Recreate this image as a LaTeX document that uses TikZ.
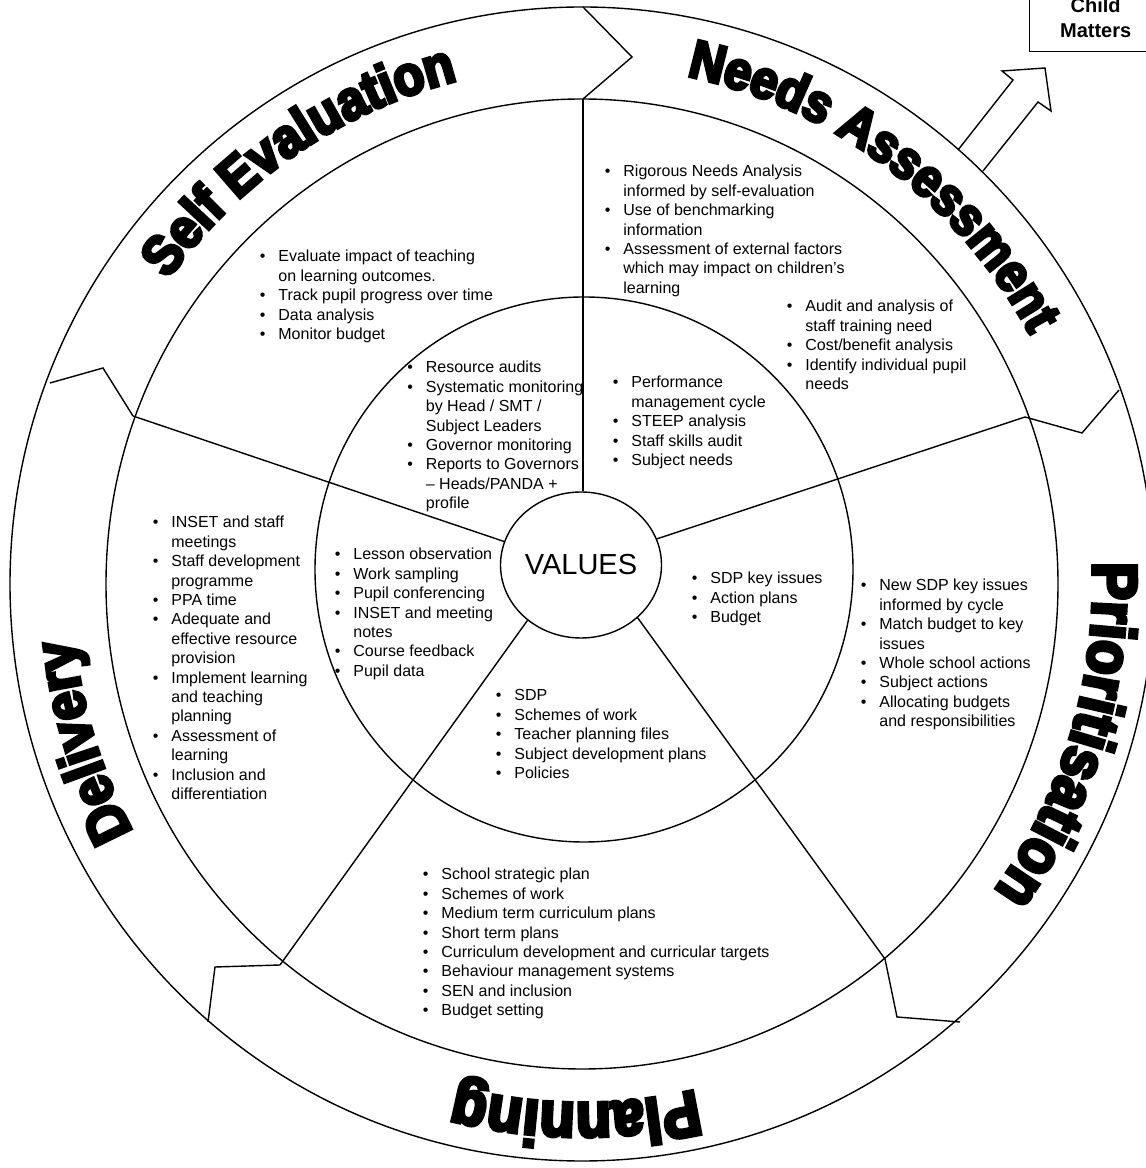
\documentclass[tikz,border=0pt]{standalone}
\usepackage{fontspec}
\setmainfont{Liberation Sans}
\newfontfamily\heavyfont{Liberation Sans}[BoldFeatures={FakeBold=6,FakeStretch=0.9}]
\usetikzlibrary{shapes.geometric,decorations.text}
\newcommand{\listfont}{\fontsize{8}{9.7}\selectfont}
\newcommand{\blist}[1]{\begin{tabular}[t]{@{}p{9.25pt}@{}l@{}}#1\end{tabular}}
\tikzset{
  bullets/.style={anchor=base west, inner sep=0pt, font=\listfont},
  ringlabel/.style 2 args={decorate, decoration={text along path, text align=center,
      text={|\heavyfont\bfseries\fontsize{#1}{#1}\selectfont|#2}}}
}
\begin{document}
\begin{tikzpicture}[x=0.5pt, y=0.5pt, line width=0.7pt]
    \useasboundingbox (0,0) rectangle (1146,1168);
    \clip (0,0) rectangle (1146,1168);
    \fill[white] (0,0) rectangle (1146,1168);
    \coordinate (ring) at (582,584);
    \draw (ring) ellipse [x radius=572, y radius=577];
    \draw (ring) ellipse [x radius=476, y radius=485];
    \draw (584,598.5) ellipse [x radius=269, y radius=272.5];
    \node[ellipse, draw, minimum width=80.5pt, minimum height=73pt, inner sep=0pt,
      font=\fontsize{14.5}{16}\selectfont] (values) at (581,603) {VALUES};

    \coordinate (out-t) at (583,1161);  \coordinate (tip-t) at (632,1111);  \coordinate (in-t) at (583,1069);
    \coordinate (out-l) at (50,785);    \coordinate (tip-l) at (103,800);   \coordinate (in-l) at (133,752);
    \coordinate (out-r) at (1119,778);  \coordinate (tip-r) at (1082,735);  \coordinate (in-r) at (1025,751);
    \coordinate (out-br) at (960,146);  \coordinate (tip-br) at (897,151);  \coordinate (in-br) at (885,209);
    \coordinate (out-bl) at (208,146);  \coordinate (tip-bl) at (215,201);  \coordinate (in-bl) at (280,203);
    \foreach \s in {t,l,r,br,bl} {
      \draw (out-\s) -- (tip-\s) -- (in-\s);
    }
    \draw (in-t) -- (in-t |- values.north);
    \foreach \s/\a in {l/163,r/19.6,br/-43.5,bl/-134} {
      \draw (values.\a) -- (in-\s);
    }

    \draw (958,1018) -- (1013,1088) -- (1002,1097) -- (1045,1100) -- (1051,1057) -- (1038,1066) -- (983,997);
    \node[draw, anchor=south west, minimum width=66pt, minimum height=33pt, align=center,
      font=\bfseries\fontsize{10}{12.5}\selectfont] (cm) at (1029,1116) {Child\\Matters};

    \path[ringlabel={27.8pt}{Self Evaluation}] ([shift={(159:511 and 519)}]ring)
      arc[start angle=159, end angle=89, x radius=511, y radius=519];
    \path[ringlabel={26.9pt}{Needs Assessment}] ([shift={(88.5:511 and 519)}]ring)
      arc[start angle=88.5, end angle=18.5, x radius=511, y radius=519];
    \path[ringlabel={31.5pt}{Prioritisation}] ([shift={(18:511 and 519)}]ring)
      arc[start angle=18, end angle=-52, x radius=511, y radius=519];
    \path[ringlabel={31.9pt}{Planning}] ([shift={(-55.7:511 and 519)}]ring)
      arc[start angle=-55.7, end angle=-125.7, x radius=511, y radius=519];
    \path[ringlabel={28.9pt}{Delivery}] ([shift={(232.4:511 and 519)}]ring)
      arc[start angle=232.4, end angle=162.4, x radius=511, y radius=519];

    \node[bullets] (se-out) at (259.2,906) {\blist{
      \textbullet & Evaluate impact of teaching\\
      & on learning outcomes.\\
      \textbullet & Track pupil progress over time\\
      \textbullet & Data analysis\\
      \textbullet & Monitor budget}};
    \node[bullets] (se-in) at (406.7,795) {\blist{
      \textbullet & Resource audits\\
      \textbullet & Systematic monitoring\\
      & by Head / SMT /\\
      & Subject Leaders\\
      \textbullet & Governor monitoring\\
      \textbullet & Reports to Governors\\
      & – Heads/PANDA +\\
      & profile}};
    \node[bullets] (na-out) at (604.2,991) {\blist{
      \textbullet & Rigorous Needs Analysis\\
      & informed by self-evaluation\\
      \textbullet & Use of benchmarking\\
      & information\\
      \textbullet & Assessment of external factors\\
      & which may impact on children’s\\
      & learning}};
    \node[bullets] (na-mid) at (786.2,856) {\blist{
      \textbullet & Audit and analysis of\\
      & staff training need\\
      \textbullet & Cost/benefit analysis\\
      \textbullet & Identify individual pupil\\
      & needs}};
    \node[bullets] (na-in) at (612.2,780) {\blist{
      \textbullet & Performance\\
      & management cycle\\
      \textbullet & STEEP analysis\\
      \textbullet & Staff skills audit\\
      \textbullet & Subject needs}};
    \node[bullets] (dl-out) at (152.2,640) {\blist{
      \textbullet & INSET and staff\\
      & meetings\\
      \textbullet & Staff development\\
      & programme\\
      \textbullet & PPA time\\
      \textbullet & Adequate and\\
      & effective resource\\
      & provision\\
      \textbullet & Implement learning\\
      & and teaching\\
      & planning\\
      \textbullet & Assessment of\\
      & learning\\
      \textbullet & Inclusion and\\
      & differentiation}};
    \node[bullets] (dl-in) at (334.2,608) {\blist{
      \textbullet & Lesson observation\\
      \textbullet & Work sampling\\
      \textbullet & Pupil conferencing\\
      \textbullet & INSET and meeting\\
      & notes\\
      \textbullet & Course feedback\\
      \textbullet & Pupil data}};
    \node[bullets] (pr-in) at (691.2,584) {\blist{
      \textbullet & SDP key issues\\
      \textbullet & Action plans\\
      \textbullet & Budget}};
    \node[bullets] (pr-out) at (860.2,577) {\blist{
      \textbullet & New SDP key issues\\
      & informed by cycle\\
      \textbullet & Match budget to key\\
      & issues\\
      \textbullet & Whole school actions\\
      \textbullet & Subject actions\\
      \textbullet & Allocating budgets\\
      & and responsibilities}};
    \node[bullets] (pl-in) at (495.2,467) {\blist{
      \textbullet & SDP\\
      \textbullet & Schemes of work\\
      \textbullet & Teacher planning files\\
      \textbullet & Subject development plans\\
      \textbullet & Policies}};
    \node[bullets] (pl-out) at (422.2,288) {\blist{
      \textbullet & School strategic plan\\
      \textbullet & Schemes of work\\
      \textbullet & Medium term curriculum plans\\
      \textbullet & Short term plans\\
      \textbullet & Curriculum development and curricular targets\\
      \textbullet & Behaviour management systems\\
      \textbullet & SEN and inclusion\\
      \textbullet & Budget setting}};
\end{tikzpicture}
\end{document}
